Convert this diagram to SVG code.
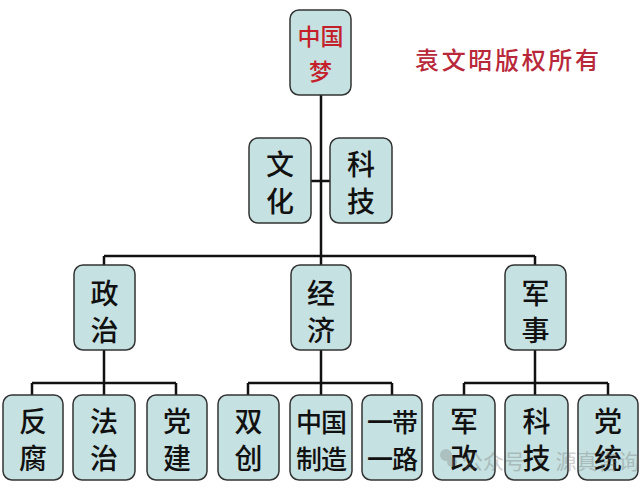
<svg xmlns="http://www.w3.org/2000/svg" width="640" height="490" viewBox="0 0 640 490">
<style>
.box{fill:#c6e1e1;stroke:#333;stroke-width:1.5}
.t{font-family:"Noto Sans CJK SC","Noto Sans CJK TC",sans-serif;font-weight:500;fill:#111;text-anchor:middle;dominant-baseline:central}
.big{font-size:28px}
.small{font-size:26px;letter-spacing:-1px}
.red{fill:#c4202a;font-size:23px}
.ln{stroke:#111;stroke-width:2.5;fill:none}
</style>
<rect width="640" height="490" fill="#ffffff"/>
<g id="connectors">
<path class="ln" d="M321 95V256M311 181H330M104 256H535M104 256V265M321 256V265M535 256V265"/>
<path class="ln" d="M104 350V383M32 383H176M32 383V395M104 383V395M176 383V395"/>
<path class="ln" d="M321 350V383M248 383H392M248 383V395M321 383V395M392 383V395"/>
<path class="ln" d="M535 350V383M464 383H608M464 383V395M535 383V395M608 383V395"/>
</g>
<g id="n-dream"><rect class="box" x="290" y="10" width="61" height="85" rx="9"/><text class="t red" x="320.5" y="35">中国</text><text class="t red" x="320.5" y="70">梦</text></g>
<g id="n-copyright"><text x="507" y="58" style="font-family:'Noto Sans CJK SC',sans-serif;font-weight:500;font-size:24px;fill:#b8283a;text-anchor:middle;dominant-baseline:central" textLength="184" lengthAdjust="spacing">袁文昭版权所有</text></g>
<g id="n-culture"><rect class="box" x="249" y="138" width="62" height="85" rx="9"/><text class="t big" x="280" y="163">文</text><text class="t big" x="280" y="200">化</text></g>
<g id="n-tech"><rect class="box" x="330" y="138" width="62" height="85" rx="9"/><text class="t big" x="361" y="163">科</text><text class="t big" x="361" y="200">技</text></g>
<g id="n-politics"><rect class="box" x="74" y="265" width="61" height="85" rx="9"/><text class="t big" x="104.5" y="292">政</text><text class="t big" x="104.5" y="329">治</text></g>
<g id="n-economy"><rect class="box" x="291" y="265" width="60" height="85" rx="9"/><text class="t big" x="321" y="292">经</text><text class="t big" x="321" y="329">济</text></g>
<g id="n-military"><rect class="box" x="505" y="265" width="61" height="85" rx="9"/><text class="t big" x="535.5" y="292">军</text><text class="t big" x="535.5" y="329">事</text></g>
<g id="n-fanfu"><rect class="box" x="3" y="395" width="60" height="85" rx="9"/><text class="t big" x="33" y="420">反</text><text class="t big" x="33" y="457">腐</text></g>
<g id="n-fazhi"><rect class="box" x="73" y="395" width="62" height="85" rx="9"/><text class="t big" x="104" y="420">法</text><text class="t big" x="104" y="457">治</text></g>
<g id="n-dangjian"><rect class="box" x="147" y="395" width="60" height="85" rx="9"/><text class="t big" x="177" y="420">党</text><text class="t big" x="177" y="457">建</text></g>
<g id="n-shuangchuang"><rect class="box" x="218" y="395" width="61" height="85" rx="9"/><text class="t big" x="248.5" y="420">双</text><text class="t big" x="248.5" y="457">创</text></g>
<g id="n-zhizao"><rect class="box" x="290" y="395" width="62" height="85" rx="9"/><text class="t small" x="321" y="420">中国</text><text class="t small" x="321" y="457">制造</text></g>
<g id="n-yidaiyilu"><rect class="box" x="362" y="395" width="60" height="85" rx="9"/><text class="t small" x="392" y="420">一带</text><text class="t small" x="392" y="457">一路</text></g>
<g id="n-jungai"><rect class="box" x="433" y="395" width="62" height="85" rx="9"/><text class="t big" x="464" y="420">军</text><text class="t big" x="464" y="457">改</text></g>
<g id="n-keji2"><rect class="box" x="505" y="395" width="63" height="85" rx="9"/><text class="t big" x="536.5" y="420">科</text><text class="t big" x="536.5" y="457">技</text></g>
<g id="n-dangtong"><rect class="box" x="578" y="395" width="60" height="85" rx="9"/><text class="t big" x="608" y="420">党</text><text class="t big" x="608" y="457">统</text></g>
<g id="watermark" opacity="0.3"><circle cx="446" cy="455" r="6" fill="#777"/><circle cx="452" cy="462" r="5" fill="#777"/><text x="462" y="460" style="font-family:'Noto Sans CJK SC',sans-serif;font-size:21px;fill:#666;dominant-baseline:central">公众号 · 源真咨询</text></g>
</svg>
